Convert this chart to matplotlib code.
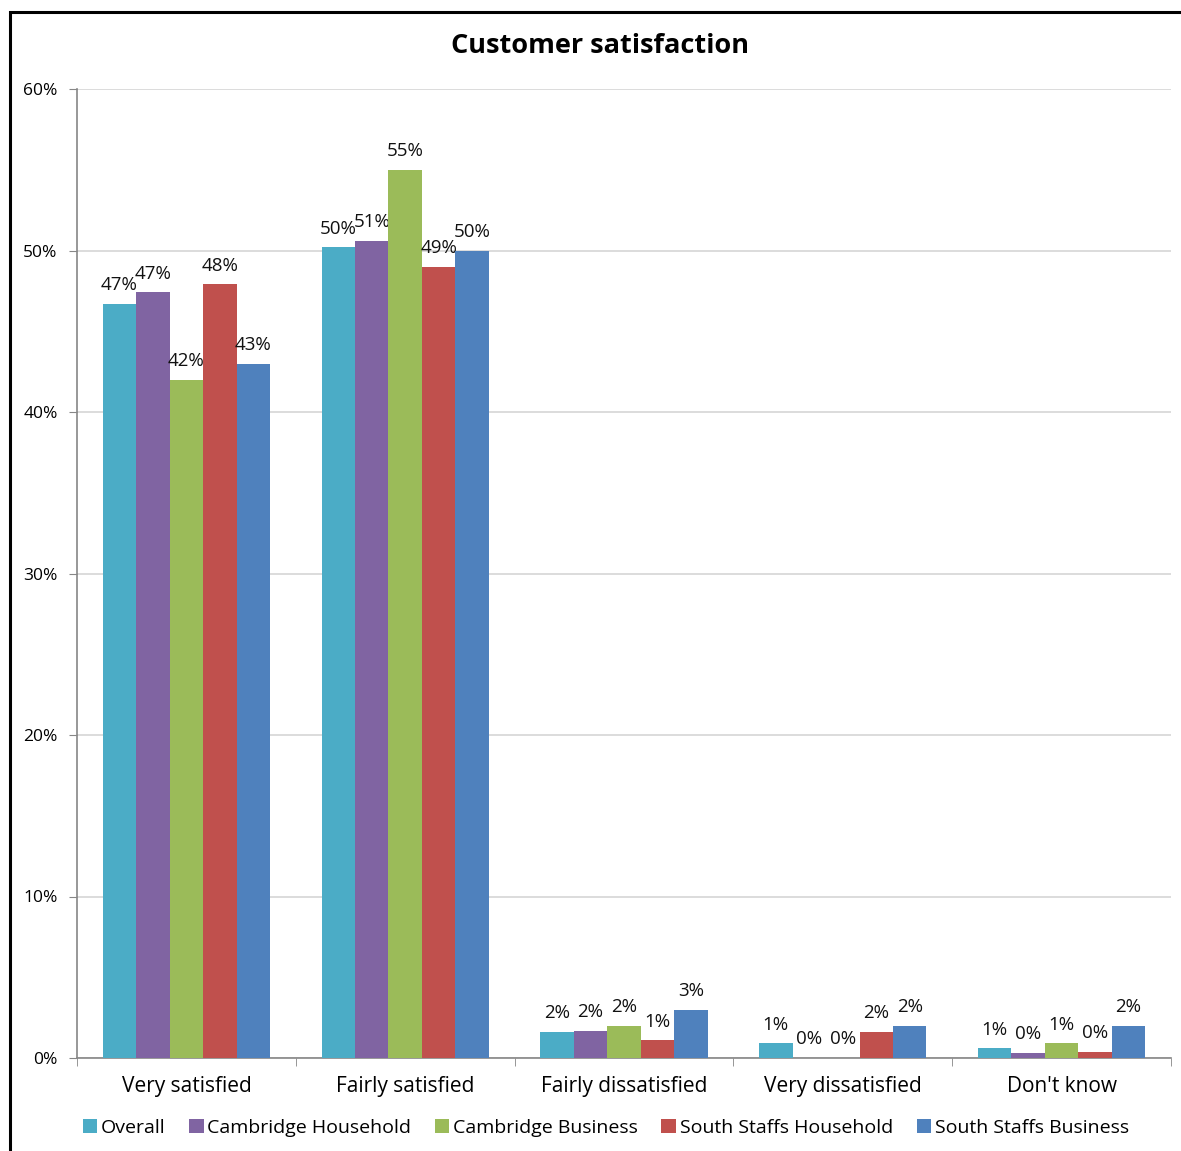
import matplotlib
matplotlib.use("Agg")
import matplotlib.pyplot as plt
import numpy as np
from matplotlib.patches import Rectangle

plt.rcParams["font.family"] = ["Open Sans", "DejaVu Sans"]

categories = ["Very satisfied", "Fairly satisfied", "Fairly dissatisfied",
              "Very dissatisfied", "Don't know"]
series_names = ["Overall", "Cambridge Household", "Cambridge Business",
                "South Staffs Household", "South Staffs Business"]
colors = ["#4bacc6", "#8064a2", "#9bbb59", "#c0504d", "#4f81bd"]

# share of respondents (%) per category
overall = [46.7, 50.2, 1.6, 0.9, 0.6]
cambridge_household = [47.4, 50.6, 1.7, 0.0, 0.3]
cambridge_business = [42.0, 55.0, 2.0, 0.0, 0.9]
south_staffs_household = [47.9, 49.0, 1.1, 1.6, 0.4]
south_staffs_business = [43.0, 50.0, 3.0, 2.0, 2.0]
series = [overall, cambridge_household, cambridge_business,
          south_staffs_household, south_staffs_business]

yticks = [0, 10, 20, 30, 40, 50, 60]

fig = plt.figure(figsize=(11.81, 11.51), dpi=100)
ax = fig.add_axes([77 / 1181, 93 / 1151, 1094 / 1181, 969 / 1151])

# outer frame around the figure
fig.patches.append(Rectangle((10 / 1181, -0.05), 1.2, (1151 - 12) / 1151 + 0.05,
                             transform=fig.transFigure, fill=False,
                             edgecolor="black", linewidth=2.2))

x = np.arange(len(categories))
bw = 0.153
for i, (vals, name, c) in enumerate(zip(series, series_names, colors)):
    pos = x + (i - 2) * bw
    bars = ax.bar(pos, vals, width=bw, color=c, label=name, zorder=3)
    for b, v in zip(bars, vals):
        ax.annotate(f"{v:.0f}%", xy=(b.get_x() + b.get_width() / 2, v),
                    xytext=(0, 7), textcoords="offset points",
                    ha="center", va="bottom", fontsize=13.5, color="#111111")

ax.set_xlim(-0.5, len(categories) - 0.5)
ax.set_ylim(0, 60)
ax.set_yticks(yticks)
ax.set_yticklabels([f"{t}%" for t in yticks], fontsize=12.5)
ax.set_xticks(x)
ax.set_xticklabels(categories, fontsize=15)
ax.tick_params(axis="x", length=0, pad=13)
ax.set_xticks(np.arange(-0.5, len(categories)), minor=True)
ax.tick_params(axis="x", which="minor", length=6, color="#868686", direction="out")
ax.tick_params(axis="y", length=6, color="#868686", pad=8)

ax.grid(axis="y", color="#d9d9d9", linewidth=1.3, zorder=0)
ax.set_axisbelow(True)
for s in ["top", "right"]:
    ax.spines[s].set_visible(False)
for s in ["left", "bottom"]:
    ax.spines[s].set_color("#868686")
    ax.spines[s].set_linewidth(1.2)

fig.text(0.508, 1 - 46 / 1151, "Customer satisfaction", ha="center", va="center",
         fontsize=19.5, fontweight="bold")

fig.legend(loc="center", bbox_to_anchor=(0.513, 1 - 1128 / 1151), ncol=5,
           frameon=False, fontsize=14, handlelength=0.75, handleheight=0.75,
           handletextpad=0.2, columnspacing=1.2)

fig.savefig("out.png", dpi=100)
